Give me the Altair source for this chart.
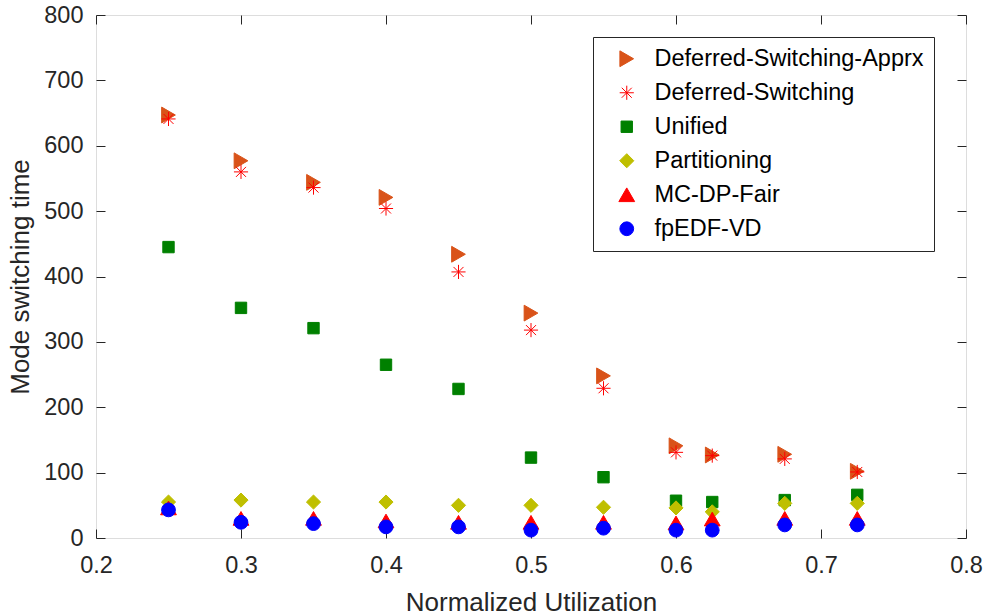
import altair as alt
import pandas as pd

utilization = [0.25, 0.3, 0.35, 0.4, 0.45, 0.5, 0.55, 0.6, 0.625, 0.675, 0.725]

series_names = ["Deferred-Switching-Apprx", "Deferred-Switching", "Unified",
                "Partitioning", "MC-DP-Fair", "fpEDF-VD"]

apprx = [647, 577, 544, 521, 434, 344, 248, 141, 127, 128, 102]
deferred = [641, 560, 536, 504, 407, 318, 229, 131, 126, 121, 101]
unified = [445, 352, 321, 265, 228, 123, 93, 57, 55, 58, 66]
partitioning = [55, 58, 55, 55, 50, 50, 47, 46, 40, 53, 53]
mc_dp_fair = [46, 30, 30, 26, 24, 24, 24, 23, 29, 30, 30]
fpedf_vd = [43, 24, 22, 17, 17, 12, 15, 12, 12, 20, 20]

series_values = [apprx, deferred, unified, partitioning, mc_dp_fair, fpedf_vd]

colors = ["#D95319", "#FF0000", "#008000", "#BFBF00", "#FF0000", "#0000FF"]
asterisk = ("M-1,0L1,0M0,-1L0,1M-0.7071,-0.7071L0.7071,0.7071"
            "M-0.7071,0.7071L0.7071,-0.7071")
shapes = ["triangle-right", asterisk, "square", "diamond", "triangle-up", "circle"]
sizes = [250, 200, 130, 200, 250, 190]

rows = []
for name, vals in zip(series_names, series_values):
    for u, v in zip(utilization, vals):
        rows.append({"u": u, "t": v, "series": name})
df = pd.DataFrame(rows)

FONT = "Liberation Sans"
AX = "#262626"
LABEL_SIZE = 23.5
TITLE_SIZE = 26

xscale = alt.Scale(domain=[0.2, 0.8], nice=False, zero=False)
yscale = alt.Scale(domain=[0, 800], nice=False)
xticks = [0.2, 0.3, 0.4, 0.5, 0.6, 0.7, 0.8]
yticks = [0, 100, 200, 300, 400, 500, 600, 700, 800]

axis_style = dict(
    labelFont=FONT, labelFontSize=LABEL_SIZE, labelColor=AX, labelFlush=False,
    titleFont=FONT, titleFontSize=TITLE_SIZE, titleColor=AX, titleFontWeight="normal",
    tickColor=AX, tickWidth=1, tickSize=9, offset=-9, domain=False, grid=False,
)

legend = alt.Legend(
    title=None, orient="none", legendX=497, legendY=22,
    padding=10, strokeColor=AX, fillColor="white",
    labelFontSize=LABEL_SIZE, labelFont=FONT, labelColor="#000000", labelLimit=500,
    rowPadding=9, symbolOffset=12, labelOffset=16,
    symbolStrokeWidth=1,
)

points = alt.Chart(df).mark_point(filled=True, strokeWidth=1, opacity=1).encode(
    x=alt.X("u:Q", scale=xscale, title="Normalized Utilization",
            axis=alt.Axis(values=xticks, format=".1f", orient="bottom",
                          labelPadding=15, titleY=81, titleBaseline="alphabetic",
                          **axis_style)),
    y=alt.Y("t:Q", scale=yscale, title="Mode switching time",
            axis=alt.Axis(values=yticks, orient="left", labelPadding=13,
                          titleX=-77, titleBaseline="alphabetic", **axis_style)),
    fill=alt.Fill("series:N", scale=alt.Scale(domain=series_names, range=colors), legend=legend),
    stroke=alt.Stroke("series:N", scale=alt.Scale(domain=series_names, range=colors), legend=legend),
    shape=alt.Shape("series:N", scale=alt.Scale(domain=series_names, range=shapes), legend=legend),
    size=alt.Size("series:N", scale=alt.Scale(type="ordinal", domain=series_names, range=sizes),
                  legend=legend),
)

frame_axes = alt.Chart(df).mark_point(opacity=0).encode(
    x=alt.X("u:Q", scale=xscale, title=None,
            axis=alt.Axis(values=xticks, orient="top", labels=False, **axis_style)),
    y=alt.Y("t:Q", scale=yscale, title=None,
            axis=alt.Axis(values=yticks, orient="right", labels=False, **axis_style)),
)

chart = alt.layer(points, frame_axes).resolve_axis(
    x="independent", y="independent"
).properties(
    width=870, height=523,
    autosize=alt.AutoSizeParams(type="none"),
    padding={"left": 96, "top": 15, "right": 19, "bottom": 77},
).configure_view(
    stroke=AX, strokeWidth=1
).configure(background="white")

chart.save("out.html", embed_options={"renderer": "svg", "actions": False})
